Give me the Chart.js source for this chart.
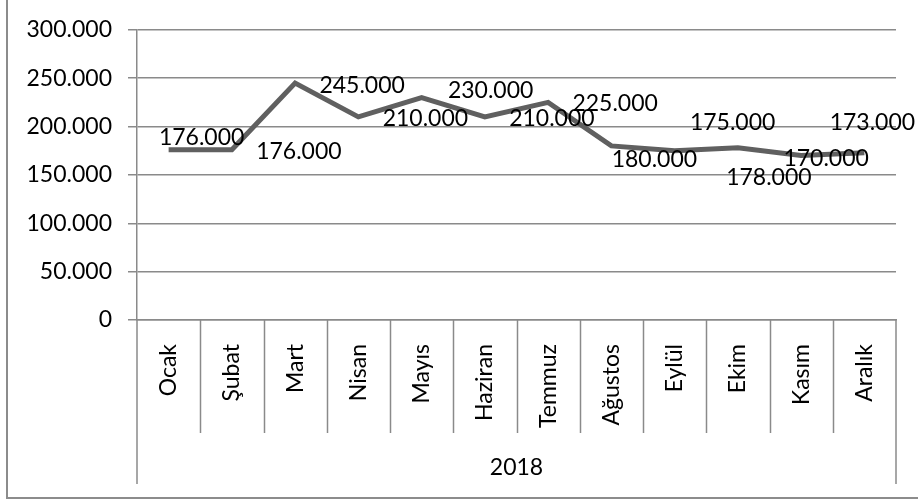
<!DOCTYPE html>
<html>
<head>
<meta charset="utf-8">
<script src="https://cdn.jsdelivr.net/npm/chart.js@4"></script>
<style>
  html, body { margin: 0; padding: 0; background: #fff; }
  #wrap { width: 918px; height: 502px; position: relative; }
</style>
</head>
<body>
<div id="wrap"><canvas id="chartLine"></canvas></div>
<script>
// chart data
const months = ["Ocak", "Şubat", "Mart", "Nisan", "Mayıs", "Haziran", "Temmuz", "Ağustos", "Eylül", "Ekim", "Kasım", "Aralık"];
const sales = [176000, 176000, 245000, 210000, 230000, 210000, 225000, 180000, 175000, 178000, 170000, 173000];
const groupLabels = ["2018"];
const yTicks = [0, 50000, 100000, 150000, 200000, 250000, 300000];

// where each value label sits relative to its point (px)
const labelOffsets = [
  [33, -12], [67, 2], [67, 3], [67, 2], [69, -7], [67, 2],
  [67, 1], [43, 14], [58, -28], [31, 30], [25, 3], [8, -30],
];

const FONT = "Lato";
const FSIZE = 23;
const fmt = (v) => v.toLocaleString("tr-TR");

// value labels, category separators, year row and outer frame
const extras = {
  id: "extras",
  afterDatasetsDraw(chart) {
    const ctx = chart.ctx;
    const meta = chart.getDatasetMeta(0);
    ctx.save();
    ctx.font = FSIZE + "px " + FONT;
    ctx.fillStyle = "#000";
    ctx.textAlign = "center";
    ctx.textBaseline = "middle";
    meta.data.forEach((pt, i) => {
      const [dx, dy] = labelOffsets[i];
      ctx.fillText(fmt(sales[i]), pt.x + dx, pt.y + dy);
    });
    ctx.restore();
  },
  afterDraw(chart) {
    const ctx = chart.ctx;
    const x = chart.scales.x;
    const area = chart.chartArea;
    const half = (x.getPixelForValue(1) - x.getPixelForValue(0)) / 2;
    ctx.save();
    ctx.strokeStyle = "#8a8a8a";
    ctx.lineWidth = 1.5;
    ctx.beginPath();
    for (let i = 1; i < months.length; i++) {
      const px = Math.round(x.getPixelForValue(i) - half) + 0.5;
      ctx.moveTo(px, area.bottom);
      ctx.lineTo(px, area.bottom + 113);
    }
    ctx.moveTo(area.left, area.bottom);
    ctx.lineTo(area.left, area.bottom + 164);
    ctx.moveTo(area.right, area.bottom);
    ctx.lineTo(area.right, area.bottom + 164);
    ctx.stroke();

    ctx.font = FSIZE + "px " + FONT;
    ctx.fillStyle = "#000";
    ctx.textAlign = "center";
    ctx.textBaseline = "middle";
    ctx.fillText(groupLabels[0], (area.left + area.right) / 2, area.bottom + 148);

    ctx.strokeStyle = "#8c8c8c";
    ctx.lineWidth = 2;
    ctx.strokeRect(7, -1, 940, 499);
    ctx.restore();
  },
};

const configLine = {
  type: "line",
  data: {
    labels: months,
    datasets: [
      {
        data: sales,
        borderColor: "#606060",
        borderWidth: 5,
        pointRadius: 0,
        tension: 0,
        fill: false,
      },
    ],
  },
  options: {
    responsive: false,
    animation: false,
    layout: { padding: { top: 18, right: 22, left: 12, bottom: 0 } },
    plugins: { legend: { display: false }, tooltip: { enabled: false } },
    scales: {
      x: {
        offset: true,
        grid: { display: false },
        border: { color: "#8a8a8a", width: 1.5 },
        ticks: {
          color: "#000",
          font: { family: FONT, size: FSIZE },
          minRotation: 90,
          maxRotation: 90,
          padding: 16,
          autoSkip: false,
        },
        afterFit: (scale) => { scale.height = 182; },
      },
      y: {
        min: 0,
        max: 300000,
        afterBuildTicks: (scale) => { scale.ticks = yTicks.map((v) => ({ value: v })); },
        grid: { color: "#8a8a8a", lineWidth: 1.5, tickLength: 9 },
        border: { color: "#8a8a8a", width: 1.5 },
        ticks: {
          color: "#000",
          font: { family: FONT, size: FSIZE },
          padding: 16,
          callback: (v) => fmt(v),
        },
        afterFit: (scale) => { scale.width = 125; },
      },
    },
  },
  plugins: [extras],
};

const canvas = document.getElementById("chartLine");
canvas.width = 918;
canvas.height = 502;
new Chart(canvas, configLine);
</script>
</body>
</html>
